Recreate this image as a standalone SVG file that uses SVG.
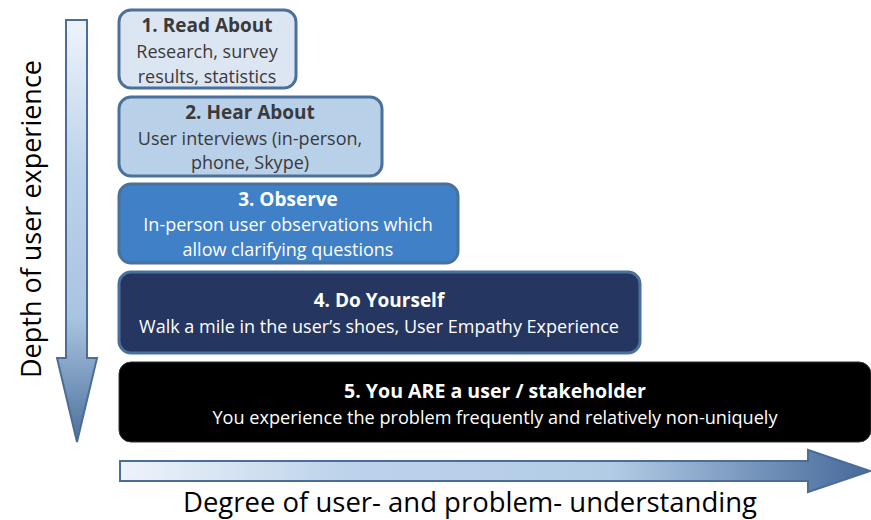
<svg xmlns="http://www.w3.org/2000/svg" width="871" height="520" viewBox="0 0 871 520">
  <defs>
    <linearGradient id="gradDown" x1="0" y1="20" x2="0" y2="445" gradientUnits="userSpaceOnUse">
      <stop offset="0" stop-color="#eef3fa"/>
      <stop offset="0.35" stop-color="#bcd3ea"/>
      <stop offset="0.7" stop-color="#a9c4e2"/>
      <stop offset="1" stop-color="#4a6e98"/>
    </linearGradient>
    <linearGradient id="gradRight" x1="120" y1="0" x2="871" y2="0" gradientUnits="userSpaceOnUse">
      <stop offset="0" stop-color="#eef3fa"/>
      <stop offset="0.3" stop-color="#bcd3ea"/>
      <stop offset="0.65" stop-color="#b3cce6"/>
      <stop offset="1" stop-color="#46699a"/>
    </linearGradient>
    <style>
      .box { stroke: #4a709c; stroke-width: 3; }
      .t { font-family: "Open Sans", "Liberation Sans", sans-serif; text-anchor: middle; }
      .h { font-weight: bold; font-size: 19px; }
      .b { font-size: 18px; }
      .dark { fill: #3a3a3a; }
      .light { fill: #ffffff; }
      .axis { font-family: "Open Sans", "Liberation Sans", sans-serif; font-size: 27px; font-weight: 500; fill: #000; text-anchor: middle; }
    </style>
  </defs>

  <rect width="871" height="520" fill="#ffffff"/>

  <!-- axis arrows -->
  <g id="connectors">
    <path d="M66,20 H87 V358 H97 L77,442 L57,358 H66 Z" fill="url(#gradDown)" stroke="#4a6e98" stroke-width="2"/>
    <path d="M120,461 H808 V450 L870,471 L808,492 V481 H120 Z" fill="url(#gradRight)" stroke="#4a6e98" stroke-width="2"/>
  </g>

  <text class="axis" transform="translate(41,219) rotate(-90)" textLength="318" lengthAdjust="spacingAndGlyphs">Depth of user experience</text>
  <text class="axis" x="470" y="512" textLength="574" lengthAdjust="spacingAndGlyphs">Degree of user- and problem- understanding</text>

  <g id="read-about">
    <rect class="box" x="119" y="10" width="177" height="78" rx="12" fill="#dce6f2"/>
    <text class="t h dark" x="207" y="32">1. Read About</text>
    <text class="t b dark" x="207" y="58">Research, survey</text>
    <text class="t b dark" x="207" y="83">results, statistics</text>
  </g>

  <g id="hear-about">
    <rect class="box" x="119" y="97" width="263" height="79" rx="12" fill="#b9d0e9"/>
    <text class="t h dark" x="250" y="119">2. Hear About</text>
    <text class="t b dark" x="250" y="145">User interviews (in-person,</text>
    <text class="t b dark" x="250" y="169">phone, Skype)</text>
  </g>

  <g id="observe">
    <rect class="box" x="119" y="184" width="339" height="79" rx="12" fill="#3f80c6"/>
    <text class="t h light" x="288" y="206">3. Observe</text>
    <text class="t b light" x="288" y="231">In-person user observations which</text>
    <text class="t b light" x="288" y="256">allow clarifying questions</text>
  </g>

  <g id="do-yourself">
    <rect class="box" x="119" y="272" width="521" height="81" rx="12" fill="#253760"/>
    <text class="t h light" x="379" y="307">4. Do Yourself</text>
    <text class="t b light" x="379" y="333">Walk a mile in the user’s shoes, User Empathy Experience</text>
  </g>

  <g id="you-are-user">
    <rect x="119" y="362" width="752" height="80" rx="12" fill="#000000" stroke="#333333" stroke-width="1"/>
    <text class="t h light" x="495" y="398" textLength="302" lengthAdjust="spacingAndGlyphs">5. You ARE a user / stakeholder</text>
    <text class="t b light" x="495" y="424" textLength="565" lengthAdjust="spacingAndGlyphs">You experience the problem frequently and relatively non-uniquely</text>
  </g>
</svg>
